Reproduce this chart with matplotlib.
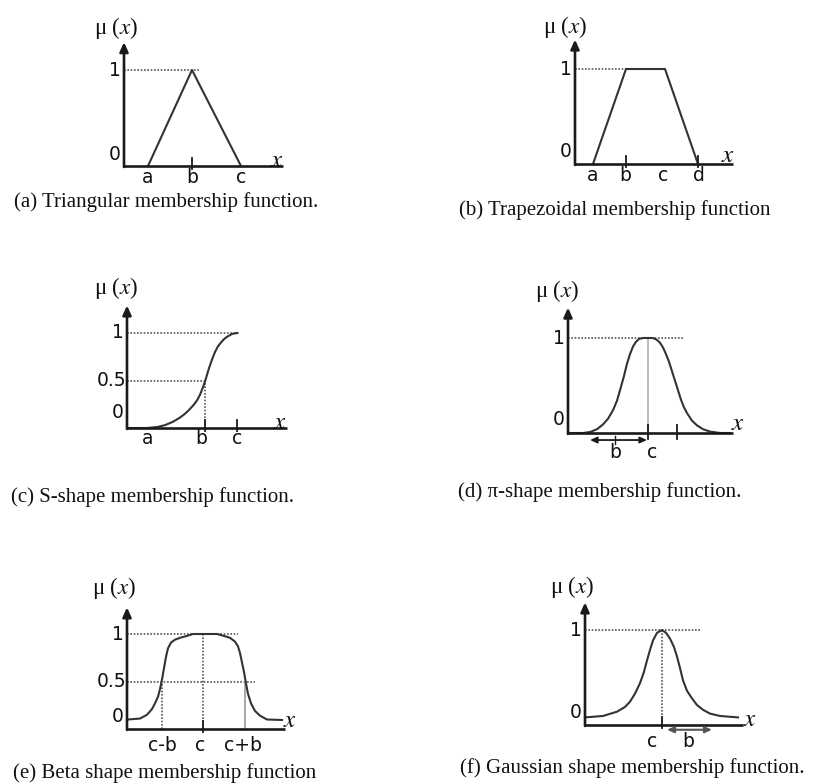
import matplotlib
matplotlib.use("Agg")
import matplotlib.pyplot as plt

# ---------------- data (x in chart units, mu = membership degree) ----------------
# (a) triangular
tri_x = [2.4, 6.8, 11.7]
tri_mu = [0.0, 1.0, 0.0]
tri_ticks = [6.8]
tri_labels_x = [2.4, 6.8, 11.7]
tri_labels = ["a", "b", "c"]

# (b) trapezoidal
trap_x = [1.8, 5.1, 9.0, 12.3]
trap_mu = [0.0, 1.0, 1.0, 0.0]
trap_ticks = [5.1, 12.3]
trap_labels_x = [1.8, 5.0, 8.8, 12.4]
trap_labels = ["a", "b", "c", "d"]

# (c) S-shape
s_x = [0.0, 2.0, 3.0, 3.8, 4.6, 5.3, 5.8, 6.2, 6.6, 7.0, 7.3, 7.6, 7.8, 8.0, 8.2, 8.5, 8.8,
       9.1, 9.4, 9.7, 10.0, 10.5, 11.0]
s_mu = [0.0, 0.0, 0.01, 0.03, 0.066, 0.11, 0.15, 0.19, 0.235, 0.29, 0.35, 0.43, 0.49, 0.56,
        0.63, 0.72, 0.8, 0.86, 0.9, 0.935, 0.96, 0.99, 1.0]
s_ticks = [7.8, 11.0]
s_labels_x = [2.1, 7.4, 11.0]
s_labels = ["a", "b", "c"]

# (d) pi-shape
pi_x = [0.0, 1.5, 2.2, 2.9, 3.5, 4.0, 4.5, 4.9, 5.2, 5.6, 5.9, 6.2, 6.5, 6.8, 7.1, 7.5, 8.0,
        8.5, 8.9, 9.2, 9.5, 9.8, 10.1, 10.4, 10.7, 11.0, 11.3, 11.6, 11.9, 12.4, 12.9, 13.5,
        14.2, 15.2, 16.2]
pi_mu = [0.0, 0.0, 0.01, 0.04, 0.09, 0.15, 0.24, 0.34, 0.45, 0.6, 0.73, 0.83, 0.91, 0.96, 0.99,
         1.0, 1.0, 1.0, 0.98, 0.95, 0.9, 0.83, 0.75, 0.65, 0.55, 0.45, 0.35, 0.27, 0.21, 0.13,
         0.08, 0.04, 0.015, 0.0, 0.0]
pi_ticks = [8.0, 10.9]
pi_c = 8.0
pi_b_span = [2.2, 7.9]

# (e) Beta shape
beta_x = [0.1, 1.3, 2.0, 2.5, 2.8, 3.1, 3.3, 3.5, 3.7, 3.9, 4.1, 4.4, 4.8, 5.3, 6.0, 6.6,
          7.6, 9.0, 9.7, 10.3, 10.8, 11.1, 11.3, 11.5, 11.7, 11.9, 12.1, 12.4, 12.8, 13.3,
          14.0, 15.5]
beta_mu = [0.1, 0.11, 0.15, 0.21, 0.27, 0.34, 0.42, 0.52, 0.64, 0.76, 0.85, 0.91, 0.94, 0.96,
           0.98, 1.0, 1.0, 1.0, 0.98, 0.96, 0.92, 0.87, 0.8, 0.7, 0.6, 0.48, 0.37, 0.27, 0.19,
           0.14, 0.1, 0.095]
beta_marks = [3.5, 7.6, 11.8]
beta_labels = ["c-b", "c", "c+b"]
beta_labels_x = [3.5, 7.3, 11.6]

# (f) Gaussian
gauss_x = [0.0, 1.8, 3.2, 4.0, 4.5, 5.0, 5.5, 5.9, 6.2, 6.5, 6.8, 7.2, 7.7, 8.1, 8.5, 8.9,
           9.2, 9.5, 9.8, 10.2, 10.7, 11.2, 11.8, 12.5, 13.5, 15.3]
gauss_mu = [0.08, 0.095, 0.14, 0.19, 0.245, 0.33, 0.44, 0.56, 0.68, 0.79, 0.89, 0.97, 1.0, 0.97,
            0.91, 0.82, 0.72, 0.6, 0.47, 0.36, 0.28, 0.21, 0.16, 0.12, 0.095, 0.08]
gauss_c = 7.7
gauss_b_span = [8.2, 12.7]

captions = [
    "(a) Triangular membership function.",
    "(b) Trapezoidal membership function",
    "(c) S-shape membership function.",
    "(d) \u03c0-shape membership function.",
    "(e) Beta shape membership function",
    "(f) Gaussian shape membership function.",
]

# ---------------- layout / style ----------------
W, H, DPI = 813, 784, 100
plt.rcParams["mathtext.fontset"] = "stix"
fig = plt.figure(figsize=(W / DPI, H / DPI), dpi=DPI)
fig.patch.set_facecolor("white")

XPX = 10.0            # pixels per x unit
XLIM = (-4.5, 18.0)
YLIM = (-0.6, 1.6)

CURVE = "#333333"
AXC = "#1a1a1a"
DOT = "#555555"
TXT = "#111111"
SERIF = ["Liberation Serif", "DejaVu Serif"]
SANS = ["DejaVu Sans"]
LW = 1.5


def make_axes(ox, oy, ys):
    left = ox + XLIM[0] * XPX
    width = (XLIM[1] - XLIM[0]) * XPX
    top = oy - YLIM[1] * ys
    height = (YLIM[1] - YLIM[0]) * ys
    ax = fig.add_axes([left / W, 1 - (top + height) / H, width / W, height / H])
    ax.set_xlim(*XLIM)
    ax.set_ylim(*YLIM)
    ax.axis("off")
    return ax


def frame(ax, xend, ytop, xlab_pos, mu_pos):
    ax.plot([0, xend], [0, 0], color=AXC, lw=1.9, solid_capstyle="butt", zorder=3)
    ax.annotate("", xy=(0, ytop), xytext=(0, -0.01),
                arrowprops=dict(arrowstyle="-|>,head_length=0.55,head_width=0.25",
                                color=AXC, lw=1.9, shrinkA=0, shrinkB=0), zorder=3)
    ax.text(xlab_pos[0], xlab_pos[1], "$x$", fontsize=18, color=TXT, ha="center", va="center")
    ax.text(mu_pos[0], mu_pos[1], "\u03bc ($x$)", fontsize=16.5, color=TXT, ha="center",
            va="center", family=SERIF)


def ylabel(ax, y, s, x=-0.35):
    ax.text(x, y, s, fontsize=13.5, color=TXT, ha="right", va="center", family=SANS)


def xlabels(ax, xs, labs, y):
    for xv, s in zip(xs, labs):
        ax.text(xv, y, s, fontsize=13.5, color=TXT, ha="center", va="center", family=SANS)


def ticks(ax, xs, lo=-0.03, hi=0.08):
    for xv in xs:
        ax.plot([xv, xv], [lo, hi], color=AXC, lw=1.3, zorder=3)


def hdot(ax, y, x1):
    ax.plot([0, x1], [y, y], color=DOT, lw=1.2, ls=(0, (1, 1)), zorder=1)


def vdot(ax, x, y1, color=DOT, ls=(0, (1, 1))):
    ax.plot([x, x], [0, y1], color=color, lw=1.2, ls=ls, zorder=1)


def caption(s, cx, cy):
    fig.text(cx / W, 1 - cy / H, s, fontsize=15, color=TXT, ha="center", va="center",
             family=SERIF)


# (a)
ax = make_axes(124, 166, 96)
hdot(ax, 1, 7.6)
ax.plot(tri_x, tri_mu, color=CURVE, lw=LW, zorder=2)
ticks(ax, tri_ticks)
frame(ax, 15.9, 1.29, (15.3, 0.06), (-0.8, 1.44))
ylabel(ax, 0.12, "0")
ylabel(ax, 1.0, "1")
xlabels(ax, tri_labels_x, tri_labels, -0.12)
caption(captions[0], 166, 202)

# (b)
ax = make_axes(575, 164, 95)
hdot(ax, 1, 5.1)
ax.plot(trap_x, trap_mu, color=CURVE, lw=LW, zorder=2)
ticks(ax, trap_ticks)
frame(ax, 15.8, 1.31, (15.3, 0.095), (-1.0, 1.44))
ylabel(ax, 0.13, "0")
ylabel(ax, 1.0, "1")
xlabels(ax, trap_labels_x, trap_labels, -0.12)
caption(captions[1], 615, 210)

# (c)
ax = make_axes(127, 428, 95)
hdot(ax, 1, 11.3)
hdot(ax, 0.5, 7.8)
vdot(ax, 7.8, 0.5)
ax.plot(s_x, s_mu, color=CURVE, lw=LW, zorder=2)
ticks(ax, s_ticks)
frame(ax, 16.0, 1.29, (15.3, 0.06), (-1.1, 1.47))
ylabel(ax, 0.16, "0")
ylabel(ax, 0.5, "0.5", x=-0.1)
ylabel(ax, 1.0, "1")
xlabels(ax, s_labels_x, s_labels, -0.11)
caption(captions[2], 152, 497)

# (d)
ax = make_axes(568, 433, 95)
hdot(ax, 1, 11.5)
vdot(ax, pi_c, 1.0, color="#b0b0b0", ls="-")
ax.plot(pi_x, pi_mu, color=CURVE, lw=LW, zorder=2)
ticks(ax, pi_ticks, lo=-0.06, hi=0.08)
frame(ax, 16.5, 1.32, (17.0, 0.105), (-1.1, 1.5))
ax.annotate("", xy=(pi_b_span[0], -0.074), xytext=(pi_b_span[1], -0.074),
            arrowprops=dict(arrowstyle="<|-|>,head_length=0.4,head_width=0.18",
                            color=AXC, lw=1.3, shrinkA=0, shrinkB=0))
ax.plot([4.7, 4.7], [-0.03, -0.12], color=AXC, lw=1.0)
ylabel(ax, 0.14, "0")
ylabel(ax, 1.0, "1")
xlabels(ax, [4.7, 8.4], ["b", "c"], -0.2)
caption(captions[3], 600, 492)

# (e)
ax = make_axes(127, 729, 95)
hdot(ax, 1, 11.1)
hdot(ax, 0.5, 12.8)
vdot(ax, beta_marks[0], 0.5)
vdot(ax, beta_marks[1], 1.0)
vdot(ax, beta_marks[2], 0.5, color="#999999", ls="-")
ax.plot(beta_x, beta_mu, color=CURVE, lw=LW, zorder=2)
ticks(ax, [beta_marks[1]])
frame(ax, 15.8, 1.28, (16.3, 0.095), (-1.3, 1.48))
ylabel(ax, 0.13, "0")
ylabel(ax, 0.5, "0.5", x=-0.1)
ylabel(ax, 1.0, "1")
xlabels(ax, beta_labels_x, beta_labels, -0.17)
caption(captions[4], 165, 773)

# (f)
ax = make_axes(585, 725, 95)
hdot(ax, 1, 11.5)
vdot(ax, gauss_c, 1.0)
ax.plot(gauss_x, gauss_mu, color=CURVE, lw=LW, zorder=2)
ticks(ax, [gauss_c])
frame(ax, 15.8, 1.29, (16.5, 0.063), (-1.3, 1.45))
ax.annotate("", xy=(gauss_b_span[0], -0.05), xytext=(gauss_b_span[1], -0.05),
            arrowprops=dict(arrowstyle="<|-|>,head_length=0.4,head_width=0.18",
                            color="#555555", lw=1.5, shrinkA=0, shrinkB=0))
ylabel(ax, 0.13, "0")
ylabel(ax, 1.0, "1")
xlabels(ax, [6.7, 10.3], ["c", "b"], -0.17)
caption(captions[5], 632, 768)

fig.savefig("out.png", dpi=DPI, facecolor="white")
